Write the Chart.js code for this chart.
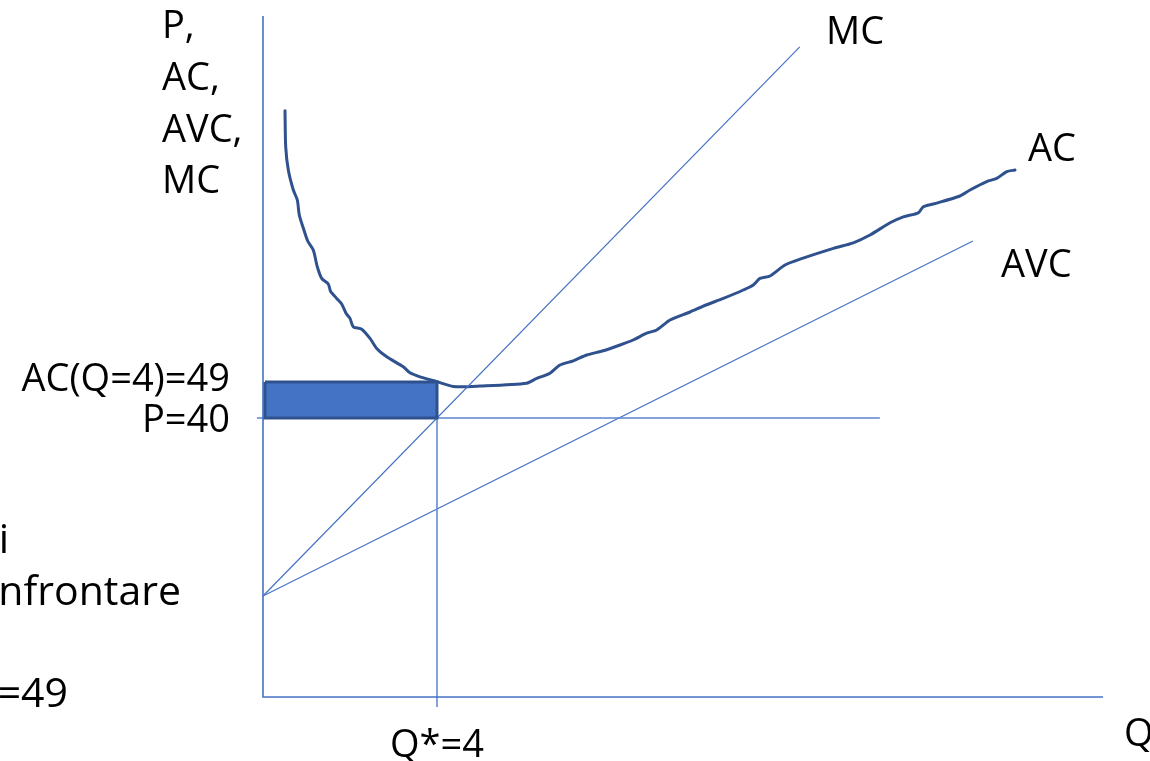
<!DOCTYPE html>
<html>
<head>
<meta charset="utf-8">
<script src="https://cdn.jsdelivr.net/npm/chart.js@4"></script>
<style>
html,body{margin:0;padding:0;background:#fff;}
#wrap{width:1150px;height:761px;position:relative;}
</style>
</head>
<body>
<div id="wrap"><canvas id="c"></canvas></div>
<script>
// ---- data (Q on x, price/cost on y) ----
const qStar = 4;
const price = 40;
const acAtQ = 49;
const mcIntercept = -4.5;
const mcLine = [{x:0,y:-4.5},{x:12.34,y:132.8}];
const avcLine = [{x:0,y:-4.5},{x:16.32,y:84.25}];
const acQ = [0.506,0.522,0.582,0.697,0.789,0.834,0.926,1.028,1.156,1.248,1.349,1.501,1.556,1.694,1.809,1.908,2.0,2.076,2.269,2.46,2.614,2.844,3.225,3.379,3.609,3.993,4.375,4.989,6.062,6.292,6.598,6.828,7.133,7.441,7.823,8.207,8.506,8.821,9.051,9.356,9.816,10.184,10.582,11.041,11.271,11.425,11.655,12.0,12.345,13.111,13.57,13.954,14.414,14.72,15.064,15.179,15.409,16.023,16.253,16.637,16.867,17.097,17.287];
const acVal = [116.8,107.8,102,97,94.5,90.75,87.5,84.25,82,77.8,74.9,73.5,71.6,69.9,68.5,66.2,64.9,62.8,62.2,59.9,57.4,55.3,52.8,51.3,50.3,49.1,47.9,48,48.7,49.9,51.2,53.25,54.3,55.75,56.8,58.25,59.5,61.2,62,64.5,66.5,68.25,69.9,72,73.25,74.9,75.5,78.25,79.7,82.4,83.8,85.75,88.8,90.3,91.3,92.8,93.5,95.5,97,99.1,99.9,101.6,102];
const xMin = 0, xMax = 19.31;
const yMin = -29.75, yMax = 140.75;
const yAxisTop = 140.5;
const priceLineEnd = 14.18;
const priceLineStart = -0.14;
const qLineBottom = -32.25;
const rectLeft = 0.046;
const yTitle = ["P,","AC,","AVC,","MC"];
const xTitle = "Q";
const curveLabels = ["MC","AC","AVC"];
const tickLabels = ["AC(Q=4)=49","P=40","Q*=4"];
const sideText = ["i","nfrontare","=49"];

const acData = acQ.map((q,i)=>({x:q,y:acVal[i]}));
const thin = '#4472C4';
const dark = '#2F528F';

const textPlugin = {
  id:'texts',
  afterDraw(chart){
    const ctx = chart.ctx;
    const xs = chart.scales.x, ys = chart.scales.y;
    ctx.save();
    ctx.fillStyle = '#000';
    ctx.font = '38px "Open Sans"';
    ctx.textBaseline = 'alphabetic';
    // y-axis title lines
    ctx.textAlign = 'left';
    const ty = [38,90,142,193];
    yTitle.forEach((t,i)=>ctx.fillText(t,162,ty[i]));
    // curve labels
    ctx.fillText(curveLabels[0],826,44);
    ctx.fillText(curveLabels[1],1028,161);
    ctx.fillText(curveLabels[2],1001,277);
    // x title
    ctx.fillText(xTitle,1124,746);
    // tick-like labels
    ctx.textAlign = 'right';
    ctx.fillText(tickLabels[0],230,ys.getPixelForValue(acAtQ)+9);
    ctx.fillText(tickLabels[1],230,ys.getPixelForValue(price)+14);
    ctx.textAlign = 'center';
    ctx.fillText(tickLabels[2],xs.getPixelForValue(qStar),757);
    // cropped slide text at left
    ctx.font = '41px "Open Sans"';
    ctx.textAlign = 'right';
    ctx.fillText(sideText[0],9,553);
    ctx.fillText(sideText[1],181,605);
    ctx.fillText(sideText[2],68,707);
    ctx.restore();
  }
};

const common = {showLine:true,pointRadius:0,pointHoverRadius:0,clip:false,fill:false,tension:0};

new Chart(document.getElementById('c'),{
  type:'scatter',
  data:{datasets:[
    Object.assign({},common,{label:'rect',data:[{x:rectLeft,y:acAtQ},{x:qStar,y:acAtQ},{x:qStar,y:price},{x:rectLeft,y:price},{x:rectLeft,y:acAtQ}],borderColor:dark,borderWidth:3,backgroundColor:'#4472C4',fill:'shape'}),
    Object.assign({},common,{label:'axes',data:[{x:0,y:yAxisTop},{x:0,y:yMin},{x:xMax,y:yMin}],borderColor:thin,borderWidth:1.6}),
    Object.assign({},common,{label:'P',data:[{x:priceLineStart,y:price},{x:priceLineEnd,y:price}],borderColor:'#5B85D0',borderWidth:1.5}),
    Object.assign({},common,{label:'Q',data:[{x:qStar,y:price},{x:qStar,y:qLineBottom}],borderColor:'#5B85D0',borderWidth:1.5}),
    Object.assign({},common,{label:'MC',data:mcLine,borderColor:thin,borderWidth:1.2}),
    Object.assign({},common,{label:'AVC',data:avcLine,borderColor:thin,borderWidth:1.2}),
    Object.assign({},common,{label:'AC',data:acData,borderColor:dark,borderWidth:3,tension:0.25,borderCapStyle:'round',borderJoinStyle:'round'})
  ]},
  options:{
    responsive:true,maintainAspectRatio:false,animation:false,
    layout:{padding:{left:263,right:47,top:15,bottom:64}},
    scales:{
      x:{type:'linear',min:xMin,max:xMax,display:false},
      y:{type:'linear',min:yMin,max:yMax,display:false}
    },
    plugins:{legend:{display:false},tooltip:{enabled:false}}
  },
  plugins:[textPlugin]
});
</script>
</body>
</html>
